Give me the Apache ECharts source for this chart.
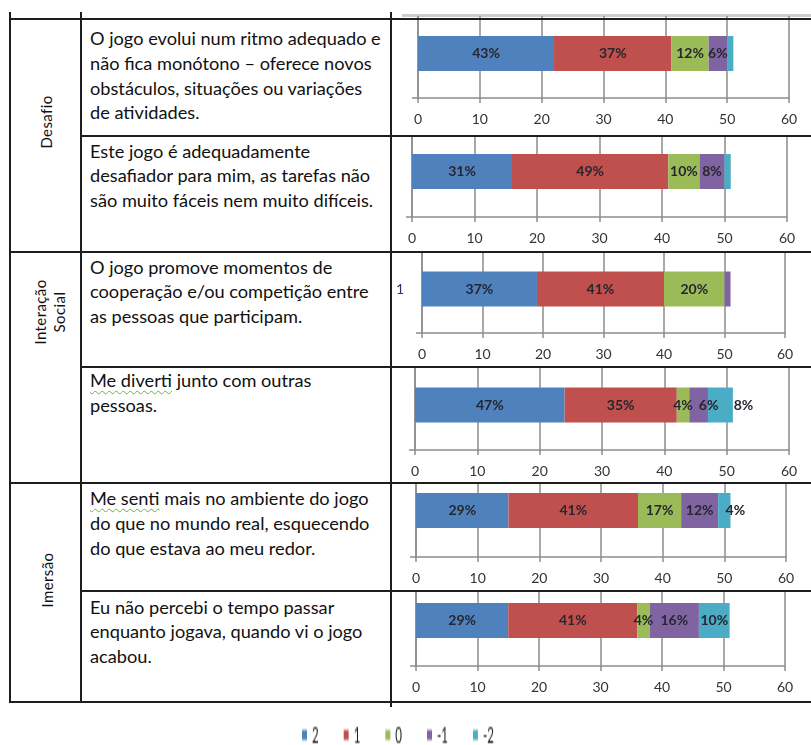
<!DOCTYPE html>
<html>
<head>
<meta charset="utf-8">
<script src="https://cdn.jsdelivr.net/npm/echarts@6/dist/echarts.min.js"></script>
<style>
  html, body { margin: 0; padding: 0; background: #fff; }
  #page { position: relative; width: 811px; height: 745px; overflow: hidden; background: #fff; font-family: Lato, "Noto Sans", sans-serif; }
  .rule { position: absolute; background: #1e1e1e; z-index: 5; }
  .clip { position: absolute; overflow: hidden; z-index: 2; }
  .chart { position: absolute; width: 811px; height: 745px; }
  .stmt { position: absolute; left: 90px; font-size: 18.2px; line-height: 24.8px; color: #111; white-space: nowrap; z-index: 3; }
  .squiggle { text-decoration: underline wavy #6fae4a; text-decoration-thickness: 1px; text-underline-offset: 3px; }
  .group { position: absolute; font-size: 15px; line-height: 18.6px; color: #111; text-align: center; white-space: nowrap; letter-spacing: 0.4px; transform: translate(-50%, -50%) rotate(-90deg); z-index: 3; }
  #legendBox { position: absolute; left: 0; top: 723px; width: 811px; height: 12px; transform: scaleY(2); transform-origin: 0 0; z-index: 4; }
</style>
</head>
<body>
<div id="page"></div>
<script>
// Response scale (series) and bar colours
const responses = ['2', '1', '0', '-1', '-2'];
const colors = ['#4F81BD', '#C0504D', '#9BBB59', '#8064A2', '#4BACC6'];

// Number of answers per statement, one array per response level
const answers2  = [22, 16, 19, 24, 15, 15];
const answers1  = [19, 25, 21, 18, 21, 21];
const answers0  = [6, 5, 10, 2, 7, 2];
const answersM1 = [3, 4, 1, 3, 6, 8];
const answersM2 = [1, 1, 0, 4, 2, 5];

// Percentage labels printed on the segments ('' = no label)
const pct2  = ['43%', '31%', '37%', '47%', '29%', '29%'];
const pct1  = ['37%', '49%', '41%', '35%', '41%', '41%'];
const pct0  = ['12%', '10%', '20%', '4%', '17%', '4%'];
const pctM1 = ['6%', '8%', '', '6%', '12%', '16%'];
const pctM2 = ['', '', '', '8%', '4%', '10%'];

// Value axis ticks
const axisMin = 0, axisMax = 60, axisStep = 10;
const barCategory = ['1'];

// Table content
const groups = ['Desafio', 'Interação\nSocial', 'Imersão'];
const statements = [
  ['O jogo evolui num ritmo adequado e', 'não fica monótono – oferece novos', 'obstáculos, situações ou variações', 'de atividades.'],
  ['Este jogo é adequadamente', 'desafiador para mim, as tarefas não', 'são muito fáceis nem muito difíceis.'],
  ['O jogo promove momentos de', 'cooperação e/ou competição entre', 'as pessoas que participam.'],
  ['Me diverti junto com outras', 'pessoas.'],
  ['Me senti mais no ambiente do jogo', 'do que no mundo real, esquecendo', 'do que estava ao meu redor.'],
  ['Eu não percebi o tempo passar', 'enquanto jogava, quando vi o jogo', 'acabou.']
];
const squiggled = [null, null, null, 'Me diverti', 'Me senti', null];

const answers = [answers2, answers1, answers0, answersM1, answersM2];
const labels = [pct2, pct1, pct0, pctM1, pctM2];

// ---- layout (page pixels) ----
const rowEdges = [19, 136, 252, 367, 483, 591, 702];
const groupEdges = [19, 252, 483, 702];
const colX = [10, 81, 391];
const rowLayout = [
  { x0: 418, x60: 789, gridTop: 9,   axisY: 98,  clipTop: 16 },
  { x0: 412, x60: 787, gridTop: 126, axisY: 217, clipTop: 137 },
  { x0: 422, x60: 785, gridTop: 245, axisY: 333, clipTop: 253 },
  { x0: 415, x60: 789, gridTop: 360, axisY: 450, clipTop: 368 },
  { x0: 416, x60: 786, gridTop: 464, axisY: 557, clipTop: 484 },
  { x0: 416, x60: 785, gridTop: 575, axisY: 666, clipTop: 592 }
];
const textTop = [26, 138.5, 254.5, 368, 486, 594.5];
const groupCenters = [[46, 122], [50, 312], [47, 580]];
// horizontal nudges for crowded segment labels: [row, level, dx]
const labelNudges = [[3, 3, 10], [3, 4, 23], [4, 4, 11]];

const page = document.getElementById('page');
function addDiv(cls, css) {
  const d = document.createElement('div');
  d.className = cls;
  Object.assign(d.style, css);
  page.appendChild(d);
  return d;
}

// table rules
const W = 811;
addDiv('rule', { left: '402px', top: '14px', width: (W - 402) + 'px', height: '3px', background: '#cdcdcd', zIndex: 1 });
colX.forEach((x, i) => {
  const bottom = i === 2 ? 707 : 703;
  addDiv('rule', { left: (x - 1) + 'px', top: '12px', width: '2px', height: (bottom - 12) + 'px' });
});
rowEdges.forEach(y => {
  const isGroup = groupEdges.indexOf(y) >= 0;
  const left = isGroup ? colX[0] - 1 : colX[1] - 1;
  addDiv('rule', { left: left + 'px', top: (y - 1) + 'px', width: (W - left) + 'px', height: '2px' });
});

// statements
statements.forEach((lines, r) => {
  const d = addDiv('stmt', { top: textTop[r] + 'px' });
  d.innerHTML = lines.map(line => {
    const esc = line.replace(/&/g, '&amp;').replace(/</g, '&lt;');
    const sq = squiggled[r];
    if (sq && esc.startsWith(sq)) return '<span class="squiggle">' + sq + '</span>' + esc.slice(sq.length);
    return esc;
  }).join('<br>');
});

// group names (rotated)
groups.forEach((g, i) => {
  const d = addDiv('group', { left: groupCenters[i][0] + 'px', top: groupCenters[i][1] + 'px' });
  d.innerHTML = g.replace('\n', '<br>');
});

// ---- one stacked bar chart per statement ----
const gridColor = '#8d8d8d';
rowLayout.forEach((L, r) => {
  const clipBottom = rowEdges[r + 1];
  const clip = addDiv('clip', {
    left: (colX[2] + 1) + 'px', top: L.clipTop + 'px',
    width: (W - colX[2] - 1) + 'px', height: (clipBottom - L.clipTop) + 'px'
  });
  const el = document.createElement('div');
  el.className = 'chart';
  el.style.left = -(colX[2] + 1) + 'px';
  el.style.top = -L.clipTop + 'px';
  clip.appendChild(el);
  const chart = echarts.init(el, null, { renderer: 'canvas', width: 811, height: 745 });

  const series = responses.map((name, k) => {
    const nudge = labelNudges.find(n => n[0] === r && n[1] === k);
    const txt = labels[k][r];
    return {
      type: 'bar',
      name: name,
      stack: 'total',
      barWidth: 35,
      itemStyle: { color: colors[k] },
      label: {
        show: txt !== '',
        position: 'inside',
        formatter: () => txt,
        offset: nudge ? [nudge[2], 0] : [0, 0],
        fontFamily: 'Lato',
        fontSize: 14,
        fontWeight: 'bold',
        color: '#26262e'
      },
      data: [answers[k][r]]
    };
  });

  chart.setOption({
    animation: false,
    grid: { left: L.x0, right: W - L.x60, top: L.gridTop, bottom: 745 - L.axisY, containLabel: false },
    xAxis: {
      type: 'value', min: axisMin, max: axisMax, interval: axisStep,
      axisLine: { show: true, lineStyle: { color: gridColor, width: 1.5 } },
      axisTick: { show: true, length: 5, lineStyle: { color: gridColor, width: 1.5 } },
      splitLine: { show: true, lineStyle: { color: gridColor, width: 1.5 } },
      axisLabel: { margin: 14, fontFamily: 'Lato', fontSize: 14, color: '#333' }
    },
    yAxis: {
      type: 'category', data: barCategory,
      axisLine: { show: true, lineStyle: { color: gridColor, width: 1.5 } },
      axisTick: { show: true, length: 6, lineStyle: { color: gridColor, width: 1.5 } },
      axisLabel: { show: r === 2, margin: 18, fontFamily: 'Lato', fontSize: 14, color: '#25356a' }
    },
    series: series
  });
});

// ---- shared legend ----
const lb = document.createElement('div');
lb.id = 'legendBox';
page.appendChild(lb);
const legendChart = echarts.init(lb, null, { renderer: 'canvas', width: 811, height: 12 });
legendChart.setOption({
  animation: false,
  grid: { left: 0, right: 0, top: 0, bottom: 0, show: false },
  xAxis: { type: 'value', show: false },
  yAxis: { type: 'category', data: barCategory, show: false },
  legend: {
    left: 302, top: 0, padding: 0,
    itemWidth: 5, itemHeight: 5, itemGap: 25,
    icon: 'rect',
    textStyle: { fontFamily: 'Lato', fontSize: 11.5, color: '#222', padding: [0, 0, 0, 0] },
    data: responses
  },
  series: responses.map((name, k) => ({ type: 'bar', name: name, stack: 'total', itemStyle: { color: colors[k] }, data: [] }))
});
</script>
</body>
</html>
